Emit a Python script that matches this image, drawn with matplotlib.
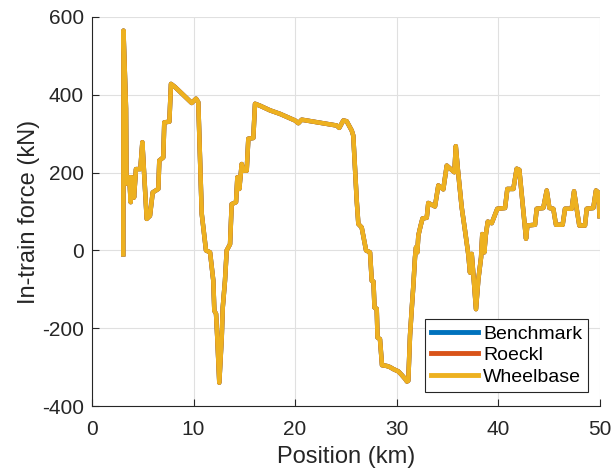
import matplotlib
matplotlib.use("Agg")
import matplotlib.pyplot as plt

plt.rcParams['font.family'] = ['Liberation Sans', 'DejaVu Sans']
plt.rcParams['axes.unicode_minus'] = False

# Position along the route (km) and in-train force (kN)
position_km = [
    3.08, 3.10, 3.35, 3.40, 3.67, 3.81, 3.91, 4.14, 4.33, 4.76, 4.96, 5.39,
    5.71, 5.98, 6.53, 6.63, 7.02, 7.12, 7.62, 7.78, 8.18, 9.82, 10.25, 10.47,
    10.81, 11.23, 11.63, 11.95, 12.05, 12.22, 12.34, 12.54, 12.78, 12.88,
    13.10, 13.27, 13.60, 13.76, 14.19, 14.32, 14.51, 14.75, 14.91, 15.24,
    15.40, 15.89, 16.06, 16.55, 17.54, 18.52, 20.00, 20.33, 20.66, 24.11,
    24.36, 24.76, 25.09, 25.59, 25.74, 26.08, 26.24, 26.57, 27.00, 27.39,
    27.56, 27.73, 27.83, 28.05, 28.13, 28.37, 28.57, 29.03, 29.36, 29.68,
    30.18, 30.51, 30.84, 31.03, 31.16, 31.33, 31.50, 31.66, 31.82, 31.92,
    32.05, 32.15, 32.38, 32.56, 32.98, 33.13, 33.79, 34.12, 34.61, 34.95,
    35.44, 35.70, 35.84, 36.03, 36.42, 36.75, 37.07, 37.24, 37.41, 37.57,
    37.83, 38.06, 38.33, 38.45, 38.65, 38.79, 38.99, 39.38, 39.93, 40.69,
    40.92, 41.51, 41.84, 42.10, 42.76, 42.89, 43.65, 43.81, 44.46, 44.80,
    45.06, 45.45, 45.71, 46.37, 46.60, 47.26, 47.49, 47.75, 48.01, 48.57,
    48.74, 49.39, 49.65, 49.88, 50.00,
]
force_kN = [
    -10, 565, 365, 172, 188, 124, 188, 136, 209, 209, 278, 81,
    89, 149, 158, 231, 239, 329, 331, 428, 420, 379, 390, 381,
    94, 0, -5, -78, -155, -163, -224, -340, -224, -147,
    -78, 0, 16, 119, 124, 188, 158, 222, 205, 205,
    287, 289, 377, 372, 360, 351, 334, 327, 336, 321,
    315, 334, 332, 308, 295, 128, 68, 59, 0, -5,
    -78, -80, -147, -150, -224, -228, -295, -297, -300, -305,
    -311, -320, -330, -337, -335, -219, -150, -90, -18, 8,
    -5, 38, 64, 82, 84, 122, 113, 167, 157, 218,
    207, 201, 268, 212, 111, 51, -10, -57, -9, -61,
    -151, -75, -18, 42, -5, 38, 74, 70, 107, 109,
    158, 158, 210, 207, 30, 64, 66, 107, 109, 154,
    109, 107, 66, 66, 107, 107, 152, 107, 64, 64,
    107, 109, 154, 149, 88,
]

series_names = ["Benchmark", "Roeckl", "Wheelbase"]
series_colors = ["#0072BD", "#D95319", "#EDB120"]

x_ticks = [0, 10, 20, 30, 40, 50]
y_ticks = [-400, -200, 0, 200, 400, 600]

fig = plt.figure(figsize=(6.13, 4.72), dpi=100)
ax = fig.add_axes([0.1501, 0.1398, 0.8279, 0.8242])

# The three models give practically identical force histories
for name, color in zip(series_names, series_colors):
    ax.plot(position_km, force_kN, color=color, lw=3.2, label=name,
            solid_joinstyle='round')

ax.set_xlim(0, 50)
ax.set_ylim(-400, 600)
ax.set_xticks(x_ticks)
ax.set_yticks(y_ticks)
ax.grid(True, color='#E0E0E0', lw=0.8)
ax.set_axisbelow(True)

for side in ('top', 'right'):
    ax.spines[side].set_visible(False)
for side in ('left', 'bottom'):
    ax.spines[side].set_color('#262626')
    ax.spines[side].set_linewidth(0.8)

ax.tick_params(direction='in', length=5, width=0.8, colors='#262626',
               labelsize=15, labelcolor='#262626')
ax.tick_params(axis='x', pad=10)
ax.tick_params(axis='y', pad=6)

ax.set_xlabel("Position (km)", fontsize=17, color='#262626', labelpad=5)
ax.set_ylabel("In-train force (kN)", fontsize=17, color='#262626', labelpad=1)

leg = ax.legend(loc='lower right', bbox_to_anchor=(0.978, 0.037),
                borderaxespad=0, fontsize=14, fancybox=False, framealpha=1,
                edgecolor='#262626', handlelength=2.4, handletextpad=0.3,
                labelspacing=0.2, borderpad=0.3)
leg.get_frame().set_linewidth(0.8)
for line in leg.get_lines():
    line.set_linewidth(3.5)

fig.savefig("out.png", dpi=100)
